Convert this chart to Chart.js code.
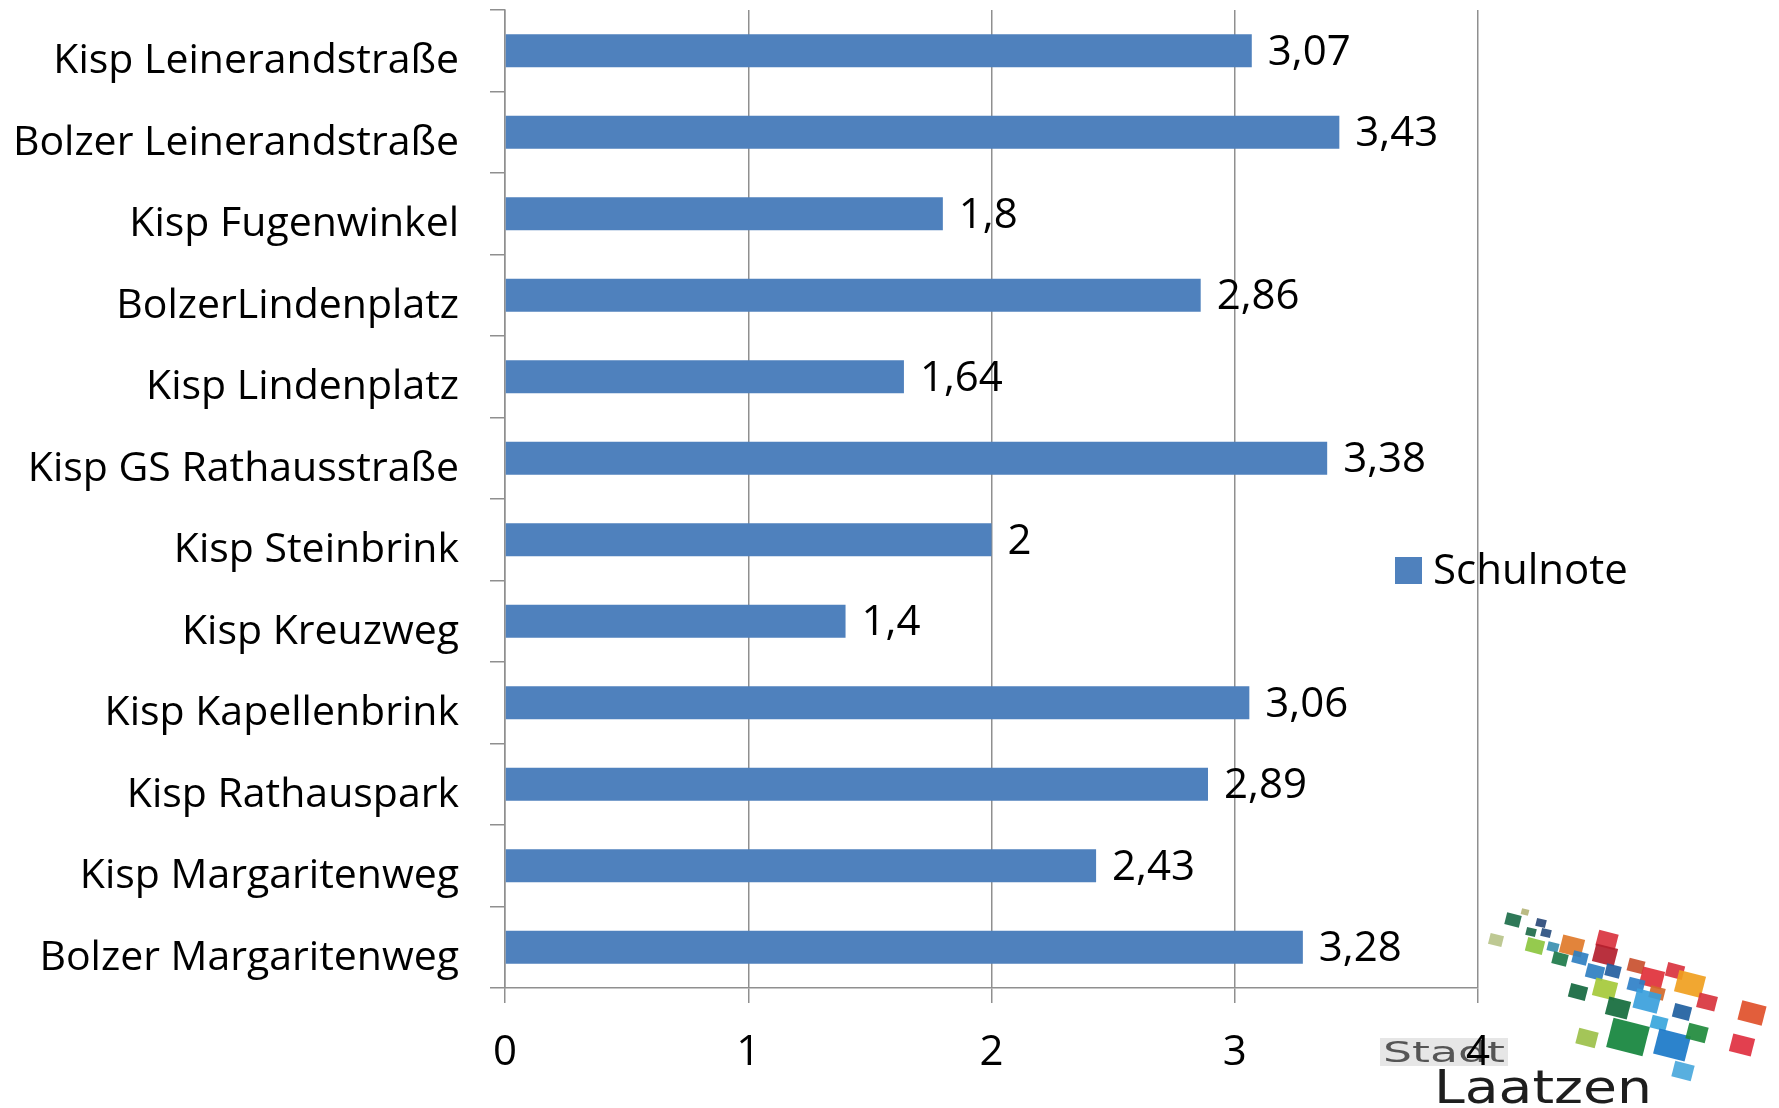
<!DOCTYPE html>
<html>
<head>
<meta charset="utf-8">
<script src="https://cdn.jsdelivr.net/npm/chart.js@4/dist/chart.umd.min.js"></script>
<style>
  html, body { margin: 0; padding: 0; background: #fff; }
  #wrap { width: 1779px; height: 1108px; position: relative; }
</style>
</head>
<body>
<div id="wrap"><canvas id="c" width="1779" height="1108"></canvas></div>
<script>
const categories = [
  "Kisp Leinerandstraße",
  "Bolzer Leinerandstraße",
  "Kisp Fugenwinkel",
  "BolzerLindenplatz",
  "Kisp Lindenplatz",
  "Kisp GS Rathausstraße",
  "Kisp Steinbrink",
  "Kisp Kreuzweg",
  "Kisp Kapellenbrink",
  "Kisp Rathauspark",
  "Kisp Margaritenweg",
  "Bolzer Margaritenweg"
];
const schulnote = [3.07, 3.43, 1.8, 2.86, 1.64, 3.38, 2, 1.4, 3.06, 2.89, 2.43, 3.28];
const seriesName = "Schulnote";
const xTicks = [0, 1, 2, 3, 4];

const FONT = "'Open Sans', 'Noto Sans', sans-serif";
const BLUE = "#4F81BD";
const GRID = "#8f8f8f";

const fmt = v => String(v).replace('.', ',');

const valueLabels = {
  id: 'valueLabels',
  afterDatasetsDraw(chart) {
    const ctx = chart.ctx;
    const meta = chart.getDatasetMeta(0);
    ctx.save();
    ctx.font = "42px " + FONT;
    ctx.fillStyle = "#000";
    ctx.textAlign = "left";
    ctx.textBaseline = "middle";
    meta.data.forEach((bar, i) => {
      ctx.fillText(fmt(schulnote[i]), bar.x + 16, bar.y + 2);
    });
    ctx.restore();
  }
};

const customLegend = {
  id: 'customLegend',
  afterDraw(chart) {
    const ctx = chart.ctx;
    ctx.save();
    ctx.fillStyle = BLUE;
    ctx.fillRect(1395, 557, 27, 27);
    ctx.fillStyle = "#000";
    ctx.font = "42px " + FONT;
    ctx.textBaseline = "middle";
    ctx.textAlign = "left";
    ctx.fillText(seriesName, 1433, 572);
    ctx.restore();
  }
};

// Decorative city logo (not data)
const logoSquares = [
  [1513,920,12,"#1d6e4a"],[1525,912,6,"#b5b57a"],[1541,923,8,"#2b4a7a"],
  [1496,940,11,"#b8c48a"],[1531,932,8,"#1f6b4a"],[1546,933,8,"#2a4f80"],
  [1535,946,14,"#8cc63f"],[1553,947,9,"#3a8fb0"],[1572,946,18,"#e07a2a"],
  [1607,940,16,"#d9333f"],[1560,959,12,"#1d7a4a"],[1580,958,12,"#2f7fc1"],
  [1605,955,18,"#b3202e"],[1636,966,13,"#c9502f"],[1595,972,14,"#2f7fc1"],
  [1613,971,12,"#245e9e"],[1675,971,14,"#d9333f"],[1652,978,18,"#e0303a"],
  [1578,992,14,"#15683f"],[1605,989,18,"#a5c93a"],[1636,985,13,"#2f80c8"],
  [1657,993,12,"#d2692a"],[1690,984,22,"#f0a020"],[1618,1008,18,"#136b3c"],
  [1647,1001,20,"#3aa0dc"],[1707,1002,15,"#d8343e"],[1682,1012,14,"#1f5fa0"],
  [1752,1013,20,"#e0502a"],[1587,1038,16,"#9cc04a"],[1628,1037,30,"#13843c"],
  [1659,1023,13,"#3aa6dc"],[1672,1045,26,"#1a78c8"],[1697,1033,16,"#1f8a3c"],
  [1742,1045,18,"#e03040"],[1683,1071,16,"#4aa8dc"]
];
const logo = {
  id: 'logo',
  beforeDraw(chart) {
    const ctx = chart.ctx;
    ctx.save();
    logoSquares.forEach(([x, y, s, c]) => {
      const sz = s * 1.25;
      ctx.save();
      ctx.translate(x, y);
      ctx.rotate(0.25);
      ctx.fillStyle = c;
      ctx.globalAlpha = 0.92;
      ctx.fillRect(-sz / 2, -sz / 2 * 0.8, sz, sz * 0.8);
      ctx.restore();
    });
    ctx.fillStyle = "#e6e6e6";
    ctx.fillRect(1380, 1038, 128, 28);
    ctx.fillStyle = "#555";
    ctx.font = "28px 'DejaVu Sans', sans-serif";
    ctx.textBaseline = "alphabetic";
    let w = ctx.measureText("Stadt").width;
    ctx.save();
    ctx.translate(1383, 1062);
    ctx.scale(122 / w, 1);
    ctx.fillText("Stadt", 0, 0);
    ctx.restore();
    ctx.fillStyle = "#1e1e1e";
    ctx.font = "46px 'DejaVu Sans', sans-serif";
    w = ctx.measureText("Laatzen").width;
    ctx.save();
    ctx.translate(1434, 1103);
    ctx.scale(218 / w, 1);
    ctx.fillText("Laatzen", 0, 0);
    ctx.restore();
    ctx.restore();
  }
};

new Chart(document.getElementById('c'), {
  type: 'bar',
  data: {
    labels: categories,
    datasets: [{
      label: seriesName,
      data: schulnote,
      backgroundColor: BLUE,
      borderWidth: 0,
      barPercentage: 0.405,
      categoryPercentage: 1.0
    }]
  },
  options: {
    indexAxis: 'y',
    responsive: false,
    animation: false,
    devicePixelRatio: 1,
    layout: { padding: { top: 10, right: 301, left: 0, bottom: 0 } },
    plugins: {
      legend: { display: false },
      tooltip: { enabled: false }
    },
    scales: {
      x: {
        type: 'linear',
        min: xTicks[0],
        max: xTicks[xTicks.length - 1],
        afterBuildTicks(scale) { scale.ticks = xTicks.map(v => ({ value: v })); },
        afterFit(scale) { scale.height = 120; scale.paddingLeft = 0; scale.paddingRight = 0; },
        grid: { color: GRID, lineWidth: 1.5, tickLength: 15, drawTicks: true },
        border: { display: true, color: GRID, width: 1.5 },
        ticks: {
          color: "#000",
          font: { size: 42, family: FONT },
          padding: 25,
          callback: v => String(v)
        }
      },
      y: {
        type: 'category',
        afterFit(scale) { scale.width = 505; scale.paddingTop = 0; scale.paddingBottom = 0; },
        grid: { drawOnChartArea: false, color: GRID, lineWidth: 1.5, tickLength: 15, offset: true },
        border: { display: true, color: GRID, width: 1.5 },
        ticks: {
          color: "#000",
          font: { size: 41, family: FONT },
          padding: 31,
          labelOffset: 11
        }
      }
    }
  },
  plugins: [valueLabels, customLegend, logo]
});
</script>
</body>
</html>
